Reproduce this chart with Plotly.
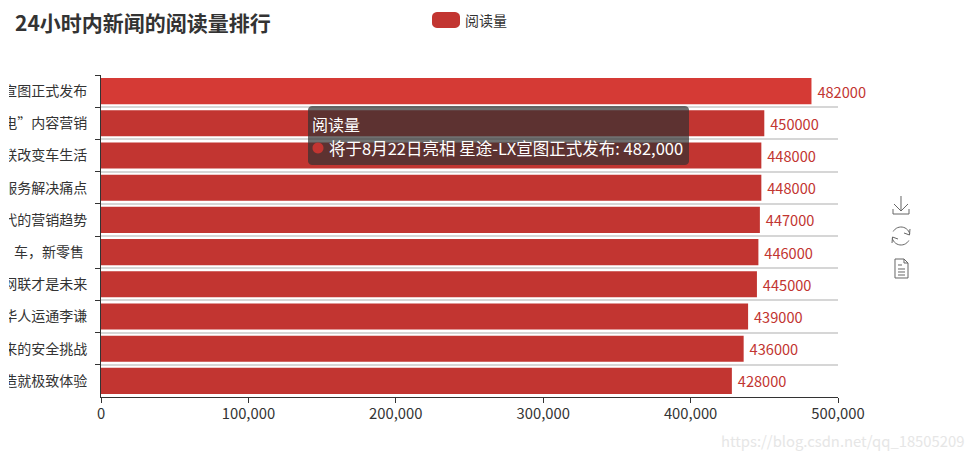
import math
import plotly.graph_objects as go

title = "24小时内新闻的阅读量排行"
series_name = "阅读量"
# the reference only shows the tail of each headline, the left side is cut off
categories = [
    "宣图正式发布",
    "电”内容营销",
    "联改变车生活",
    "服务解决痛点",
    "代的营销趋势",
    "车，新零售\u00a0",
    "网联才是未来",
    "华人运通李谦",
    "来的安全挑战",
    "造就极致体验",
]
values = [482000, 450000, 448000, 448000, 447000, 446000, 445000, 439000, 436000, 428000]
x_ticks = [0, 100000, 200000, 300000, 400000, 500000]
tooltip_head = "阅读量"
tooltip_line = "将于8月22日亮相 星途-LX宣图正式发布: 482,000"
watermark = "https://blog.csdn.net/qq_18505209"

W, H = 974, 460
L, R, T, B = 101, 838, 75, 397
RED = "#c23531"
FONT = "Noto Sans CJK SC, Noto Sans, sans-serif"


# shapes and annotations are placed by page pixel, converted to paper coords
def px(x):
    return (x - L) / (R - L)


def py(y):
    return (B - y) / (B - T)


def path(points, close=False):
    d = "M" + " L".join(f"{px(x):.5f},{py(y):.5f}" for x, y in points)
    return d + (" Z" if close else "")


def round_rect(x0, y0, x1, y1, r):
    pts = []
    corners = [(x1 - r, y0 + r, -90), (x1 - r, y1 - r, 0), (x0 + r, y1 - r, 90), (x0 + r, y0 + r, 180)]
    for cx, cy, start in corners:
        for i in range(7):
            a = math.radians(start + i * 15)
            pts.append((cx + r * math.cos(a), cy + r * math.sin(a)))
    return path(pts, close=True)


def arc(cx, cy, r, a0, a1, n=14):
    return [(cx + r * math.cos(math.radians(a0 + (a1 - a0) * i / n)),
             cy + r * math.sin(math.radians(a0 + (a1 - a0) * i / n))) for i in range(n + 1)]


def add_shape_path(d, fill=None, line=None, width=1, opacity=1):
    fig.add_shape(type="path", path=d, xref="paper", yref="paper", layer="above",
                  fillcolor=fill if fill else "rgba(0,0,0,0)",
                  line=dict(color=line if line else "rgba(0,0,0,0)", width=width), opacity=opacity)


def add_text(x, y, text, size, color, xanchor="left"):
    # annotations carry a small padding round the text, shift it back out
    fig.add_annotation(x=px(x), y=py(y), xref="paper", yref="paper", text=text, showarrow=False,
                       xanchor=xanchor, yanchor="middle", font=dict(size=size, color=color, family=FONT),
                       xshift=-3 if xanchor == "left" else 3)


fig = go.Figure()

bar_colors = ["#d53a35"] + [RED] * (len(values) - 1)
fig.add_trace(go.Bar(
    x=values, y=categories, orientation="h", name=series_name,
    marker=dict(color=bar_colors, line=dict(width=0)),
    text=["\u2009" + str(v) for v in values], textposition="outside", cliponaxis=False,
    textfont=dict(size=14.6, color=RED, family=FONT),
    width=0.81, showlegend=False, hoverinfo="skip",
))

fig.update_layout(
    width=W, height=H,
    margin=dict(l=L, r=W - R, t=T, b=H - B, pad=0),
    paper_bgcolor="white", plot_bgcolor="white",
    font=dict(family=FONT, color="#333333"),
    showlegend=False,
    xaxis=dict(
        range=[0, 500000], tickvals=x_ticks, tickformat=",", showgrid=False, zeroline=False,
        automargin=False, ticklabelstandoff=-2,
        showline=True, linecolor="#333333", linewidth=1, ticks="outside", ticklen=5,
        tickcolor="#333333", tickfont=dict(size=14.8, color="#333333", family=FONT),
    ),
    yaxis=dict(
        categoryorder="array", categoryarray=categories, autorange="reversed",
        automargin=False,
        tickson="boundaries", ticks="outside", ticklen=5, tickcolor="#333333",
        showgrid=True, gridcolor="#d6d6d6", gridwidth=1.6, zeroline=False,
        showline=True, linecolor="#333333", linewidth=1, ticklabelstandoff=10,
        tickfont=dict(size=14, color="#333333", family=FONT),
    ),
)

# title and legend
add_text(16, 22, f"<b>{title}</b>", 21, "#333333")
add_shape_path(round_rect(432, 12, 460, 28, 5), fill=RED)
add_text(466, 20, series_name, 14, "#333333")

# white strip that cuts the tick labels off at the left, as in the reference
fig.add_shape(type="rect", xref="paper", yref="paper", layer="above",
              x0=px(0), x1=px(9), y0=py(B + 5), y1=py(T - 5), fillcolor="white", line_width=0)

# tooltip
add_shape_path(round_rect(308, 106, 689, 165, 4), fill="rgba(50,50,50,0.7)")
add_text(313, 123.5, tooltip_head, 16, "white")
add_shape_path(path(arc(318, 148, 5.5, 0, 360, 24), close=True), fill=RED)
add_text(330, 147.5, tooltip_line, 16.5, "white")

# toolbox icons
GREY = "#666666"
add_shape_path(path([(901, 196), (901, 211)]), line=GREY)
add_shape_path(path([(894, 204), (901, 211), (908, 204)]), line=GREY)
add_shape_path(path([(893, 209), (893, 214), (909, 214), (909, 209)]), line=GREY)

add_shape_path(path(arc(901, 236, 9, -150, -15)), line=GREY)
add_shape_path(path(arc(901, 236, 9, 30, 165)), line=GREY)
add_shape_path(path([(910, 229), (909.5, 235), (904, 233)]), line=GREY)
add_shape_path(path([(892, 243), (892.5, 237), (898, 239)]), line=GREY)

add_shape_path(path([(895, 259), (904, 259), (908, 263), (908, 278), (895, 278)], close=True), line=GREY)
add_shape_path(path([(904, 259), (904, 263), (908, 263)]), line=GREY)
add_shape_path(path([(898, 265), (902, 265)]), line=GREY)
add_shape_path(path([(898, 269), (905, 269)]), line=GREY)
add_shape_path(path([(898, 272), (905, 272)]), line=GREY)
add_shape_path(path([(898, 275), (905, 275)]), line=GREY)

# csdn watermark
add_text(963, 440.5, watermark, 14.8, "#e6e6e6", xanchor="right")

# page body has a default margin that would shift the chart
fig.write_html("out.html", config=dict(displayModeBar=False),
               post_script="document.body.style.margin = '0';")
